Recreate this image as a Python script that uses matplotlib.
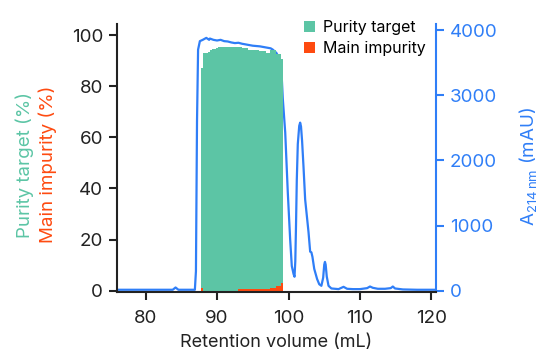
import matplotlib
matplotlib.use("Agg")
import matplotlib.pyplot as plt
import numpy as np

plt.rcParams['font.family'] = ['Inter', 'DejaVu Sans']
plt.rcParams['mathtext.fontset'] = 'custom'
plt.rcParams['mathtext.rm'] = 'Inter'

GREEN = "#5cc5a5"
ORANGE = "#fe4a10"
BLUE = "#2f7ef7"
DARK = "#222222"

# fractions (mL, centre of each 0.3 mL fraction)
frac_start = 87.95
frac_step = 0.3
purity = [87, 93, 93, 93.5, 94, 94.5, 94.5, 95, 95.5, 95.5,
          95.5, 95.5, 95.5, 95.5, 95.5, 95.5, 95.5, 95.5, 95.5, 95,
          95, 95, 94, 94, 94, 94, 94, 93.8, 93.6, 93.6,
          93, 93, 94, 94, 94, 92.7, 92.7, 90.6]
impurity = [1.0, 0, 0, 0, 0, 0, 0, 0, 0, 0,
            0, 0, 0, 0, 0, 0, 0, 0.5, 0.5, 0.5,
            0.5, 0.5, 0.5, 0.5, 0.5, 0.5, 0.5, 0.5, 0.5, 0.5,
            0.5, 0.5, 1.1, 1.1, 1.1, 1.8, 1.8, 3.2]
fractions = frac_start + frac_step * np.arange(len(purity))

# UV trace A214
vol = [76.0, 80.0, 83.8, 84.2, 84.6, 86.9, 87.05, 87.2, 87.35, 87.6,
       88.0, 88.5, 88.9, 89.0, 89.5, 90.0, 90.5, 91.0, 91.5, 92.0,
       92.5, 93.0, 93.5, 94.0, 94.5, 95.0, 95.5, 96.0, 96.5, 97.0,
       97.5, 97.8, 98.3, 98.8, 99.0, 99.2, 99.54, 99.9, 100.23, 100.46,
       100.7, 100.84, 100.95, 101.05, 101.16, 101.3, 101.5, 101.63, 101.75, 101.9,
       102.1, 102.33, 102.8, 103.03, 103.2, 103.35, 103.6, 104.0, 104.3, 104.6,
       104.85, 105.0, 105.1, 105.2, 105.35, 105.6, 106.0, 107.0, 107.7, 108.2,
       109.0, 110.0, 111.0, 111.4, 111.8, 112.5, 113.5, 114.3, 114.6, 114.9,
       116.0, 118.0, 120.5]
a214 = [15, 15, 15, 50, 15, 15, 300, 2600, 3700, 3830,
        3850, 3880, 3850, 3870, 3850, 3840, 3850, 3830, 3825, 3810,
        3800, 3805, 3790, 3780, 3770, 3760, 3755, 3750, 3740, 3730,
        3720, 3700, 3650, 3550, 3400, 2950, 2430, 1510, 790, 380,
        260, 215, 450, 1000, 1700, 2250, 2530, 2580, 2520, 2300,
        1900, 1400, 900, 600, 590, 520, 336, 180, 100, 76,
        200, 400, 443, 400, 220, 76, 35, 25, 60, 30,
        25, 25, 40, 65, 45, 30, 30, 40, 65, 35,
        20, 15, 15]

fig = plt.figure(figsize=(5.44, 3.54), dpi=100)
ax = fig.add_axes([0.215, 0.175, 0.586, 0.757])
ax2 = ax.twinx()

ax2.plot(vol, a214, color=BLUE, lw=1.6)
ax.bar(fractions, purity, width=frac_step, color=GREEN, label="Purity target", linewidth=0)
ax.bar(fractions, impurity, width=frac_step, color=ORANGE, label="Main impurity", linewidth=0)

# bars over the trace
ax.set_zorder(ax2.get_zorder() + 1)
ax.patch.set_visible(False)

ax.set_xlim(76, 120.6)
ax.set_ylim(-0.5, 104.3)
ax2.set_ylim(-20, 4092)
ax.set_xticks([80, 90, 100, 110, 120])
ax.set_yticks([0, 20, 40, 60, 80, 100])
ax2.set_yticks([0, 1000, 2000, 3000, 4000])

for a in (ax, ax2):
    a.spines['top'].set_visible(False)
ax.spines['right'].set_visible(False)
ax2.spines['left'].set_visible(False)
ax2.spines['bottom'].set_visible(False)
ax2.spines['right'].set_color(BLUE)
ax2.spines['right'].set_linewidth(1.5)
ax.spines['left'].set_linewidth(1.5)
ax.spines['bottom'].set_linewidth(1.5)
ax.spines['left'].set_color(DARK)
ax.spines['bottom'].set_color(DARK)

ax.tick_params(axis='y', labelsize=13.5, length=6, width=1.5, colors=DARK, pad=4)
ax.tick_params(axis='x', labelsize=13.5, length=6, width=1.5, colors=DARK, pad=7)
ax2.tick_params(axis='y', labelsize=13.5, length=6, width=1.5, colors=BLUE, pad=4)

ax.set_xlabel("Retention volume (mL)", fontsize=13, color=DARK, labelpad=5)

fig.text(0.046, 0.535, "Purity target (%)", rotation=90, ha='center', va='center',
         color=GREEN, fontsize=13.5)
fig.text(0.088, 0.535, "Main impurity (%)", rotation=90, ha='center', va='center',
         color=ORANGE, fontsize=13.5)
fig.text(0.972, 0.53, r"A$_{214\,\mathrm{nm}}$ (mAU)", rotation=90, ha='center', va='center',
         color=BLUE, fontsize=13.5)

ax.legend(loc='upper right', bbox_to_anchor=(1.0, 1.05), frameon=False, fontsize=11.5,
          handlelength=0.7, handleheight=0.7, handletextpad=0.5, labelspacing=0.35,
          borderaxespad=0.2)

fig.savefig("out.png", dpi=100)
